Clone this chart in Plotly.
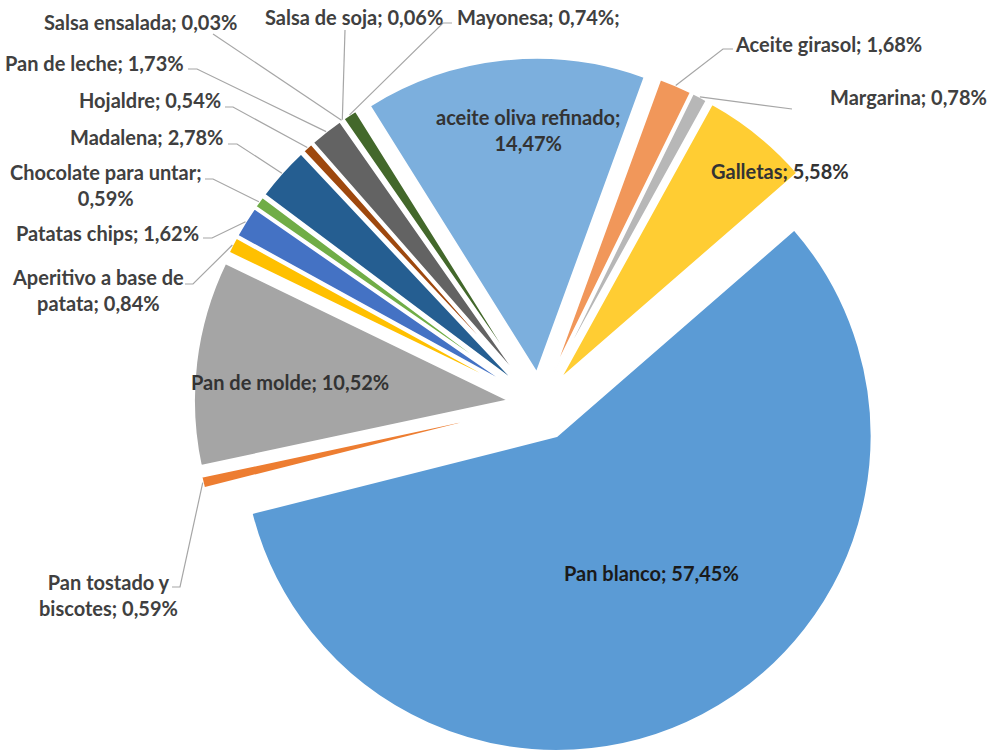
import math
import plotly.graph_objects as go

# ---------------- data ----------------
labels = ["Pan blanco", "Pan tostado y biscotes", "Pan de molde", "Aperitivo a base de patata",
          "Patatas chips", "Chocolate para untar", "Madalena", "Hojaldre", "Pan de leche",
          "Salsa ensalada", "Salsa de soja", "Mayonesa", "aceite oliva refinado",
          "Aceite girasol", "Margarina", "Galletas"]
values = [57.45, 0.59, 10.52, 0.84, 1.62, 0.59, 2.78, 0.54, 1.73,
          0.03, 0.06, 0.74, 14.47, 1.68, 0.78, 5.58]

# ---------------- styles ----------------
colors = ["#5B9BD5", "#ED7D31", "#A5A5A5", "#FFC000", "#4472C4", "#70AD47",
          "#255E91", "#9E480E", "#636363", "#997300", "#264478", "#43682B",
          "#7CAFDD", "#F1975A", "#B7B7B7", "#FFCD33"]
pulls = [0.115] + [0.10] * 15
ROTATION = 49

W, H = 987, 755
DOM_X = [0.1871, 0.9071]
DOM_Y = [0.0, 0.9298]

FONT = "Lato"
FS = 20
OUT_COLOR = "#404040"
IN_COLOR = "#333333"

# label layout: position of each label (px), anchor, optional line break, leader start points
label_layout = {
    "Salsa ensalada": dict(x=239, y=22, xa="right", pts=[(213, 34)]),
    "Pan de leche": dict(x=186, y=63, xa="right", pts=[(188, 69), (197, 69)]),
    "Hojaldre": dict(x=223, y=100, xa="right", pts=[(225, 107), (233, 107)]),
    "Madalena": dict(x=226, y=137, xa="right", pts=[(228, 144), (237, 144)]),
    "Chocolate para untar": dict(x=106, y=185, xa="center", br=True, pts=[(205, 179), (213, 179)]),
    "Patatas chips": dict(x=201, y=233, xa="right", pts=[(203, 238), (212, 238)]),
    "Aperitivo a base de patata": dict(x=98, y=290, xa="center", br="Aperitivo a base de", pts=[(185, 284), (193, 284)]),
    "Pan tostado y biscotes": dict(x=108, y=595, xa="center", br="Pan tostado y", pts=[(172, 587), (180, 587)]),
    "Salsa de soja": dict(x=354, y=17, xa="center", pts=[(345, 30)]),
    "Mayonesa": dict(x=455, y=17, xa="left", suffix=";", pts=[(452, 23), (443, 23)]),
    "Aceite girasol": dict(x=733, y=44, xa="left", pts=[(733, 49), (723, 49)]),
    "Margarina": dict(x=828, y=97, xa="left", pts=[(792, 109)]),
    "Galletas": dict(x=780, y=171, xa="center", inside=True),
    "aceite oliva refinado": dict(x=528, y=130, xa="center", br=True, inside=True),
    "Pan de molde": dict(x=290, y=382, xa="center", inside=True),
    "Pan blanco": dict(x=651, y=573, xa="center", inside=True, color="#1a1a1a"),
}

# ---------------- pie geometry (mirrors plotly's own layout of the pie) ----------------
box_w = W * (DOM_X[1] - DOM_X[0])
box_h = H * (DOM_Y[1] - DOM_Y[0])
R = min(box_w, box_h) / (2 + 2 * max(pulls))
CX = W * (DOM_X[0] + DOM_X[1]) / 2
CY = H * (1 - DOM_Y[0]) - box_h / 2
total = sum(values)

arc_mid = {}
ang = ROTATION
for name, v, p in zip(labels, values, pulls):
    span = 360.0 * v / total
    mid = math.radians(ang + span / 2)
    rr = (1 + p) * R
    arc_mid[name] = (CX + rr * math.sin(mid), CY - rr * math.cos(mid))
    ang += span


def px(x, y):
    return x / W, 1 - y / H


fig = go.Figure(go.Pie(
    labels=labels, values=values, sort=False, direction="clockwise",
    rotation=ROTATION, pull=pulls,
    marker=dict(colors=colors, line=dict(color="white", width=2)),
    textinfo="none", hoverinfo="label+percent", showlegend=False,
    domain=dict(x=DOM_X, y=DOM_Y),
))

annotations = []
shapes = []
for name, v in zip(labels, values):
    spec = label_layout[name]
    pct = f"{v:.2f}".replace(".", ",") + "%"
    full = f"{name}; {pct}" + spec.get("suffix", "")
    br = spec.get("br")
    if br is True:
        text = f"{name};<br>{pct}"
    elif isinstance(br, str):
        rest = full[len(br):].strip()
        text = f"{br}<br>{rest}"
    else:
        text = full
    inside = spec.get("inside", False)
    color = spec.get("color", IN_COLOR if inside else OUT_COLOR)
    ax, ay = px(spec["x"], spec["y"])
    annotations.append(dict(
        x=ax, y=ay, xref="paper", yref="paper", xanchor=spec["xa"], yanchor="middle",
        text=text, showarrow=False, align="center",
        font=dict(family=FONT, size=FS, color=color, weight="bold"),
    ))
    if "pts" in spec:
        pts = list(spec["pts"]) + [arc_mid[name]]
        path = ""
        for i, (x, y) in enumerate(pts):
            qx, qy = px(x, y)
            path += ("M" if i == 0 else " L") + f" {qx:.5f},{qy:.5f}"
        shapes.append(dict(type="path", xref="paper", yref="paper", path=path,
                           line=dict(color="#A6A6A6", width=1.2)))

fig.update_layout(
    width=W, height=H, margin=dict(l=0, r=0, t=0, b=0),
    paper_bgcolor="white", plot_bgcolor="white",
    annotations=annotations, shapes=shapes,
)

fig.write_html("out.html")
